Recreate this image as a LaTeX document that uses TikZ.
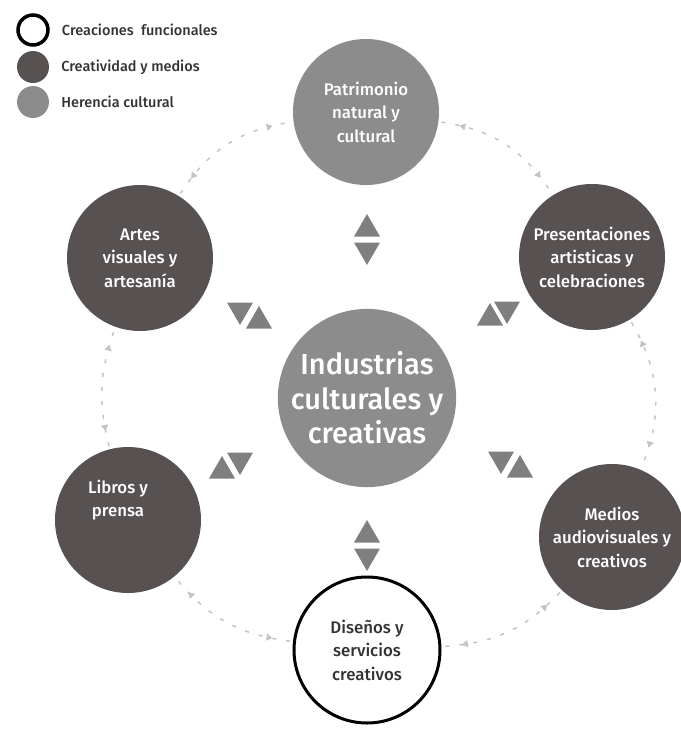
\documentclass[tikz,border=0pt]{standalone}
\usepackage{fontspec}
\setmainfont{Fira Sans}[UprightFont={* Medium}]
\usetikzlibrary{positioning}
\usetikzlibrary{shapes.geometric}
\usetikzlibrary{arrows.meta}
\usetikzlibrary{decorations.markings}
\definecolor{DARK}{HTML}{575152}
\definecolor{LIGHT}{HTML}{8C8C8C}
\definecolor{TRI}{HTML}{7F7F7F}
\definecolor{RING}{HTML}{C4C4C4}
\definecolor{INK}{HTML}{333333}
\tikzset{
	sector/.style = {circle, minimum size=146pt, inner sep=0pt, align=center, text=white, font=\fontsize{16.8}{23.5}\selectfont},
	media/.style = {sector, fill=DARK},
	heritage/.style = {sector, fill=LIGHT},
	functional/.style = {sector, fill=white, draw=black, line width=3pt, text=INK},
	up/.style = {regular polygon, regular polygon sides=3, minimum size=30pt, inner sep=0pt, fill=TRI},
	down/.style = {up, shape border rotate=180},
	ring/.style = {RING, line width=1.5pt, dash pattern=on 4pt off 10pt, shorten <=3pt, shorten >=3pt,
		postaction={decorate}, decoration={markings,
		mark=at position 0.15 with {\arrowreversed{Triangle[width=7pt,length=6pt]}},
		mark=at position 0.85 with {\arrow{Triangle[width=7pt,length=6pt]}}}},
	key/.style = {circle, minimum size=32pt, inner sep=0pt},
	keytext/.style = {right=12pt of #1, font=\fontsize{14.5}{17}\selectfont, text=INK, inner sep=0pt}
}

\begin{document}
\begin{tikzpicture}[x=1pt, y=-1pt]
	\useasboundingbox (0,0) rectangle (680,744);
	% legend
	\node[key, draw=black, line width=3.5pt, minimum size=30pt] (k1) at (33,30) {};
	\node[key, fill=DARK] (k2) at (33,67) {};
	\node[key, fill=LIGHT] (k3) at (33,102) {};
	\node[keytext=k1] (t1) {Creaciones\ \ funcionales};
	\node[keytext=k2] (t2) {Creatividad y medios};
	\node[keytext=k3] (t3) {Herencia cultural};
	% sectors
	\node[heritage] (patri) at (366,112) {Patrimonio\\natural y\\cultural};
	\node[media] (artes) at (140,258) {Artes\\visuales y\\artesanía};
	\node[media] (presen) at (592,257) {Presentaciones\\artisticas y\\celebraciones};
	\node[media] (libros) at (128,520) {};
	\node[text=white, align=center, font=\fontsize{16.8}{23.5}\selectfont] (librostext) at (118,500) {Libros y\\prensa};
	\node[media] (medios) at (612,537) {Medios\\audiovisuales y\\creativos};
	\node[functional] (disen) at (367,650) {Diseños y\\servicios\\creativos};
	% centre
	\node[heritage, minimum size=166pt, font=\fontsize{29}{34.5}\selectfont] (ind) at (367,398) {Industrias\\culturales y\\creativas};
	% ring
	\draw[ring] (patri) to[bend left=25] (presen);
	\draw[ring] (presen) to[bend left=27] (medios);
	\draw[ring] (medios) to[bend left=22] (disen);
	\draw[ring] (disen) to[bend left=22] (libros);
	\draw[ring] (libros) to[bend left=17] (artes);
	\draw[ring] (artes) to[bend left=25] (patri);
	% exchanges with the centre
	\node[up] (patriup) at (367,229) {};
	\node[down] (patridown) at (367,250) {};
	\node[down] (artesdown) at (240,310) {};
	\node[up] (artesup) at (259,321) {};
	\node[up] (presenup) at (490,318) {};
	\node[down] (presendown) at (507,309) {};
	\node[up] (librosup) at (222,471) {};
	\node[down] (librosdown) at (240,460) {};
	\node[down] (mediosdown) at (501,459) {};
	\node[up] (mediosup) at (520,470) {};
	\node[up] (disenup) at (367,535) {};
	\node[down] (disendown) at (367,556) {};
\end{tikzpicture}
\end{document}
